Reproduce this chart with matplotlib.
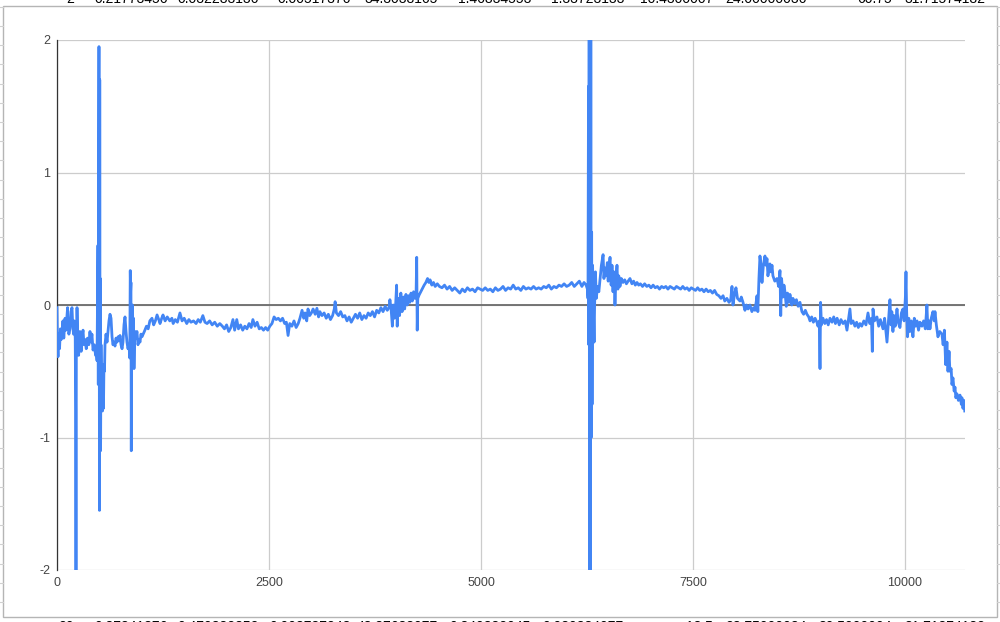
# line chart of a noisy series, sheets-style screenshot
import numpy as np
import matplotlib.pyplot as plt
from matplotlib.patches import Rectangle

plt.rcParams['font.family'] = ['Liberation Sans', 'DejaVu Sans']

# --- data (x = row index, y = value) ---
x_start = [0, 6, 12, 20, 30, 40, 50, 60, 70, 80, 95, 105, 118, 125, 130, 140, 153, 165, 177,
           185, 195, 205, 215, 220, 224, 228, 232, 236, 245, 255, 270, 285, 295, 307, 318, 330,
           345, 360, 375, 389, 400, 412, 425, 440, 455, 465, 472, 477, 483, 487, 491, 495, 498,
           501, 504, 507, 510, 514, 519, 525, 531, 537, 542, 548, 554, 560, 566, 578, 590, 601,
           613, 625, 637, 649, 660, 672, 684, 696, 708, 720, 733, 743, 755, 767, 778, 790, 802,
           814, 825, 837, 849, 858, 864, 868, 872, 876, 880, 884, 890, 896, 902, 908, 914, 920,
           930, 943, 955, 967, 979, 990, 1002]
y_start = [-0.02, -0.3, -0.39, -0.22, -0.33, -0.18, -0.26, -0.2, -0.12, -0.25, -0.1, -0.19,
           -0.08, -0.02, -0.15, -0.22, -0.18, -0.05, -0.02, -0.15, -0.22, -0.12, -0.25, -0.8,
           -2.3, -0.4, -0.2, -0.02, -0.25, -0.38, -0.2, -0.35, -0.24, -0.19, -0.3, -0.26, -0.33,
           -0.25, -0.3, -0.2, -0.28, -0.22, -0.34, -0.3, -0.38, -0.35, -0.42, -0.05, 0.45, -0.6,
           1.05, 1.95, 0.3, -1.55, 1.7, -0.5, 0.2, -1.1, -0.3, -0.6, -0.45, -0.8, -0.5, -0.78,
           -0.45, -0.5, -0.3, -0.22, -0.28, -0.2, -0.12, -0.07, -0.1, -0.24, -0.3, -0.28, -0.31,
           -0.25, -0.28, -0.24, -0.27, -0.23, -0.3, -0.33, -0.28, -0.15, -0.09, -0.2, -0.28,
           -0.33, -0.3, -0.4, 0.26, 0.1, 0.17, -1.1, -0.3, -0.45, 0.0, -0.25, -0.1, -0.48, -0.3,
           -0.2, -0.25, -0.2, -0.3, -0.26, -0.28, -0.22, -0.24]

x_early = [1030, 1055, 1075, 1095, 1120, 1140, 1160, 1180, 1200, 1215, 1235, 1250, 1275, 1300,
           1330, 1355, 1370, 1395, 1420, 1450, 1475, 1500, 1530, 1555, 1580, 1610, 1640, 1665,
           1690, 1720, 1745, 1770, 1800, 1830, 1860, 1890, 1920, 1950, 1975, 2000, 2025, 2050,
           2075, 2095, 2120, 2140, 2165, 2190, 2215, 2240, 2265, 2290, 2310, 2335, 2360, 2385,
           2410, 2435, 2460, 2485, 2510, 2535, 2560, 2585, 2610, 2635, 2660, 2685, 2705, 2725,
           2745, 2770, 2795, 2820, 2845, 2865, 2890, 2910, 2925, 2945, 2960, 2980]
y_early = [-0.2, -0.16, -0.18, -0.12, -0.1, -0.15, -0.12, -0.075, -0.11, -0.14, -0.1, -0.075,
           -0.12, -0.09, -0.12, -0.1, -0.14, -0.11, -0.13, -0.06, -0.12, -0.1, -0.14, -0.11,
           -0.13, -0.12, -0.14, -0.11, -0.13, -0.08, -0.13, -0.14, -0.12, -0.15, -0.13, -0.16,
           -0.14, -0.16, -0.18, -0.15, -0.2, -0.17, -0.11, -0.19, -0.11, -0.18, -0.15, -0.19,
           -0.16, -0.18, -0.14, -0.17, -0.11, -0.16, -0.13, -0.18, -0.17, -0.19, -0.17, -0.19,
           -0.16, -0.14, -0.09, -0.11, -0.1, -0.12, -0.1, -0.14, -0.13, -0.23, -0.14, -0.16,
           -0.12, -0.17, -0.14, -0.1, -0.04, -0.1, -0.06, -0.12, -0.03, -0.08]

x_rise = [3000, 3020, 3045, 3065, 3085, 3100, 3125, 3150, 3175, 3200, 3225, 3250, 3270, 3280,
          3295, 3320, 3345, 3370, 3395, 3420, 3445, 3470, 3495, 3520, 3545, 3570, 3595, 3620,
          3645, 3670, 3695, 3720, 3745, 3770, 3795, 3820, 3845, 3870, 3895, 3915, 3926, 3940,
          3955, 3965, 3980, 3995, 4005, 4012, 4025, 4040, 4055, 4070, 4085, 4100, 4115, 4130,
          4145, 4160, 4175, 4190, 4205, 4220, 4235, 4242, 4248, 4255, 4270, 4290, 4310, 4330,
          4350, 4370, 4385, 4400, 4420, 4440, 4460, 4485, 4510]
y_rise = [-0.06, -0.03, -0.07, -0.025, -0.09, -0.05, -0.08, -0.06, -0.1, -0.07, -0.11, -0.08,
          -0.03, 0.025, -0.06, -0.08, -0.05, -0.09, -0.08, -0.12, -0.09, -0.13, -0.1, -0.07,
          -0.1, -0.06, -0.11, -0.08, -0.1, -0.06, -0.08, -0.05, -0.09, -0.04, -0.06, -0.02,
          -0.05, -0.01, -0.04, -0.02, 0.04, -0.03, -0.16, 0.0, -0.1, 0.02, 0.15, -0.16, 0.05,
          -0.08, 0.09, -0.05, 0.06, -0.03, 0.08, 0.0, 0.07, 0.02, 0.09, 0.03, 0.1, 0.05, 0.1,
          0.36, -0.19, 0.05, 0.075, 0.1, 0.125, 0.15, 0.17, 0.2, 0.17, 0.19, 0.15, 0.17, 0.14,
          0.16, 0.14]

x_flat = [4540, 4570, 4600, 4630, 4660, 4690, 4720, 4750, 4780, 4810, 4840, 4870, 4900, 4930,
          4960, 4990, 5020, 5050, 5080, 5110, 5140, 5170, 5200, 5230, 5260, 5290, 5320, 5350,
          5380, 5410, 5440, 5470, 5500, 5530, 5560, 5590, 5620, 5650, 5680, 5710, 5740, 5770,
          5800, 5830, 5860, 5890, 5920, 5950, 5980, 6010, 6040, 6070, 6100, 6130, 6160, 6190,
          6215, 6240]
y_flat = [0.13, 0.15, 0.12, 0.14, 0.11, 0.13, 0.11, 0.09, 0.12, 0.1, 0.13, 0.11, 0.12, 0.1,
          0.13, 0.12, 0.11, 0.13, 0.11, 0.12, 0.1, 0.13, 0.11, 0.12, 0.14, 0.11, 0.13, 0.12,
          0.15, 0.12, 0.13, 0.11, 0.14, 0.12, 0.13, 0.12, 0.14, 0.12, 0.13, 0.12, 0.14, 0.13,
          0.15, 0.12, 0.14, 0.13, 0.15, 0.14, 0.16, 0.14, 0.15, 0.17, 0.14, 0.16, 0.18, 0.14,
          0.17, 0.15]

x_spike = [6255, 6262, 6268, 6272, 6276, 6280, 6285, 6290, 6295, 6300, 6305, 6310, 6316, 6322,
           6328, 6334, 6340, 6350]
y_spike = [0.12, 0.05, 1.65, -0.3, 2.3, -2.3, 2.3, -2.3, 2.3, -1.0, 0.55, -0.75, 0.3, 0.1,
           -0.1, -0.28, 0.0, 0.25]

x_late = [6360, 6375, 6390, 6405, 6420, 6440, 6450, 6462, 6475, 6490, 6500, 6512, 6522, 6535,
          6545, 6557, 6568, 6580, 6592, 6604, 6615, 6625, 6639, 6655, 6675, 6695, 6715, 6735,
          6757, 6780, 6800, 6820, 6840, 6860, 6880, 6905, 6930, 6955, 6980, 7005, 7030, 7055,
          7080, 7105, 7130, 7155, 7180, 7205, 7230, 7255, 7280, 7305, 7330, 7355, 7380, 7405,
          7430, 7455, 7480, 7505, 7530, 7555, 7580, 7605, 7630, 7655, 7680, 7705, 7730, 7755,
          7780, 7805, 7830, 7855, 7875, 7900, 7925, 7945, 7960, 7972, 7990, 8007, 8025, 8054,
          8070, 8090, 8113, 8130, 8150, 8172, 8195, 8215, 8231, 8245, 8255, 8265]
y_late = [0.05, 0.14, 0.1, 0.2, 0.3, 0.38, 0.2, 0.28, 0.22, 0.32, 0.18, 0.3, 0.36, 0.15, 0.3,
          0.1, 0.25, 0.0, 0.2, 0.3, 0.12, 0.22, 0.14, 0.2, 0.17, 0.19, 0.16, 0.18, 0.2, 0.16,
          0.18, 0.15, 0.17, 0.15, 0.16, 0.14, 0.16, 0.14, 0.15, 0.13, 0.15, 0.13, 0.14, 0.12,
          0.14, 0.13, 0.14, 0.12, 0.14, 0.13, 0.12, 0.14, 0.13, 0.12, 0.14, 0.12, 0.13, 0.11,
          0.13, 0.12, 0.11, 0.13, 0.11, 0.12, 0.1, 0.12, 0.1, 0.11, 0.09, 0.11, 0.08, 0.07,
          0.05, 0.07, 0.03, 0.05, 0.02, 0.04, 0.14, 0.0, 0.08, 0.13, 0.05, 0.03, 0.06, 0.02,
          -0.04, 0.0, -0.03, 0.0, -0.05, -0.02, -0.04, 0.02, 0.07, -0.05]

x_bump = [8278, 8290, 8302, 8314, 8330, 8349, 8360, 8373, 8384, 8398, 8408, 8420, 8432, 8443,
          8465, 8491, 8510, 8526, 8535, 8545, 8561, 8573, 8585, 8600, 8615, 8630, 8644, 8665,
          8679, 8700, 8720, 8740, 8762, 8785, 8805, 8825, 8844, 8865, 8880, 8900, 8920, 8940,
          8962, 8974, 8990, 8998, 9005, 9015, 9033, 9055, 9075, 9095, 9116, 9140, 9160, 9180,
          9200, 9225, 9245, 9270, 9295, 9316, 9335, 9351, 9365, 9387, 9410, 9430, 9450, 9469,
          9490, 9515, 9540, 9564, 9585, 9605, 9615, 9623, 9640, 9670, 9690, 9710, 9741, 9760,
          9788, 9805, 9823, 9835, 9845, 9858, 9870, 9885, 9906, 9920, 9941, 9958, 9976, 9990]
y_bump = [0.2, 0.37, 0.3, 0.17, 0.3, 0.37, 0.3, 0.35, 0.22, 0.28, 0.31, 0.25, 0.3, 0.22, 0.18,
          0.2, 0.14, 0.26, -0.08, 0.2, 0.06, 0.15, 0.1, -0.01, 0.09, 0.02, 0.08, 0.0, 0.05,
          0.01, 0.04, -0.01, 0.02, -0.05, -0.07, -0.04, -0.07, -0.09, -0.12, -0.09, -0.13,
          -0.1, -0.13, -0.16, -0.12, -0.48, 0.02, -0.15, -0.1, -0.14, -0.11, -0.15, -0.1, -0.13,
          -0.09, -0.14, -0.1, -0.15, -0.11, -0.14, -0.12, -0.19, -0.1, -0.03, -0.14, -0.12,
          -0.16, -0.13, -0.17, -0.14, -0.16, -0.12, -0.15, -0.06, -0.14, -0.1, -0.35, -0.03,
          -0.12, -0.09, -0.16, -0.11, -0.18, -0.1, -0.28, -0.12, 0.04, -0.15, -0.05, -0.2,
          -0.08, -0.16, -0.03, -0.13, -0.17, -0.06, -0.03, -0.12]

x_end = [10005, 10012, 10020, 10030, 10045, 10059, 10075, 10094, 10110, 10125, 10142, 10160,
         10177, 10200, 10220, 10240, 10259, 10270, 10285, 10295, 10310, 10330, 10345, 10354,
         10370, 10389, 10410, 10436, 10450, 10465, 10480, 10495, 10507, 10520, 10530, 10545,
         10554, 10566, 10580, 10590, 10600, 10613, 10630, 10649, 10665, 10672, 10684, 10695,
         10705]
y_end = [0.06, 0.25, -0.05, -0.24, -0.1, -0.2, -0.12, -0.24, -0.1, -0.16, -0.12, -0.19, -0.13,
         -0.16, -0.12, -0.18, 0.0, -0.18, -0.12, -0.18, -0.1, -0.05, -0.12, -0.05, -0.15, -0.24,
         -0.2, -0.22, -0.3, -0.19, -0.45, -0.28, -0.5, -0.35, -0.5, -0.48, -0.6, -0.55, -0.65,
         -0.62, -0.7, -0.67, -0.72, -0.68, -0.75, -0.7, -0.78, -0.72, -0.8]

x_ticks = [0, 2500, 5000, 7500, 10000]
y_ticks = [-2, -1, 0, 1, 2]

# spreadsheet rows peeking out above and below the chart (cut off in the screenshot too)
top_cells = ['2', '0.21773456', '0.032283136', '0.00517376', '34.3038165', '1.46834553',
             '1.33723133', '10.4300007', '24.00000036', '60.75', '31.71574182']
bottom_cells = ['20', '0.37841376', '0.470382352', '0.003787243', '48.37638077', '0.340382045',
                '0.030334077', '18.5', '23.75000034', '30.5000004', '31.71874182']

x = np.array(x_start + x_early + x_rise + x_flat + x_spike + x_late + x_bump + x_end)
y = np.array(y_start + y_early + y_rise + y_flat + y_spike + y_late + y_bump + y_end)

W, H = 1000, 622
fig = plt.figure(figsize=(W / 100, H / 100), dpi=100)
fig.patch.set_facecolor('white')

# chart frame + bits of sheet gridlines
fig.patches.append(Rectangle((3 / W, 5 / H), 994 / W, 611 / H, transform=fig.transFigure,
                             fill=False, edgecolor='#b5b5b5', linewidth=1.0))
for ry in np.arange(20, H, 19.2):
    fig.add_artist(plt.Line2D([0, 3 / W], [ry / H, ry / H], color='#d0d0d0', lw=0.8))
    fig.add_artist(plt.Line2D([997 / W, 1], [ry / H, ry / H], color='#d0d0d0', lw=0.8))

cell_right = [74, 168, 259, 351, 438, 531, 624, 713, 807, 892, 985]
for cx, t in zip(cell_right, top_cells):
    fig.text(cx / W, 1 - 3 / H, t, ha='right', va='baseline', fontsize=10, color='#000000')
for cx, t in zip(cell_right, bottom_cells):
    fig.text(cx / W, 2 / H, t, ha='right', va='top', fontsize=10, color='#000000')

ax = fig.add_axes([57 / W, 52 / H, 908 / W, 530 / H])
ax.set_xlim(0, 10708)
ax.set_ylim(-2, 2)

ax.plot(x, y, color='#4285f4', linewidth=2.0, zorder=3, solid_joinstyle='round')
ax.axhline(0, color='#6b6b6b', linewidth=1.3, zorder=2)

ax.set_xticks(x_ticks)
ax.set_yticks(y_ticks)
ax.set_xticklabels([str(v) for v in x_ticks])
ax.set_yticklabels([str(v) for v in y_ticks])
ax.grid(True, color='#cccccc', linewidth=0.9, zorder=0)
ax.set_axisbelow(True)
ax.tick_params(length=0, labelsize=9, labelcolor='#444444', pad=5)

for s in ['top', 'right', 'bottom']:
    ax.spines[s].set_visible(False)
ax.spines['left'].set_color('#333333')
ax.spines['left'].set_linewidth(0.9)

fig.savefig('out.png', dpi=100)
